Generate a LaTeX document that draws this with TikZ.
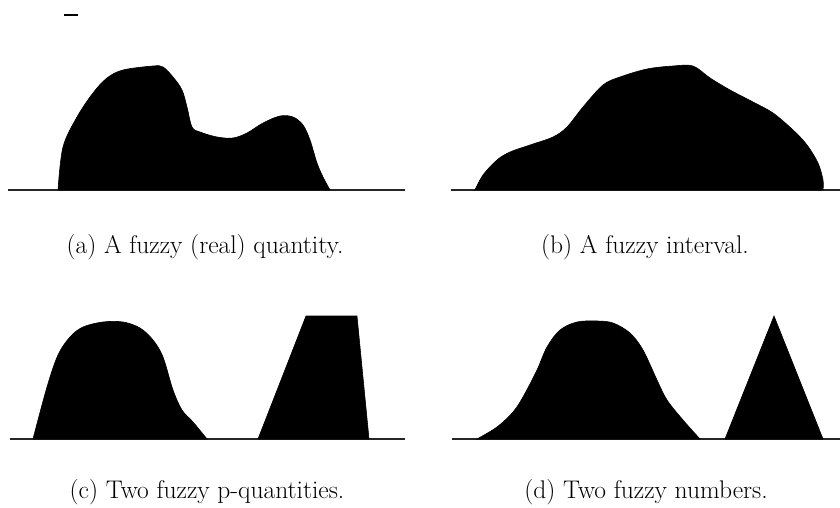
\documentclass[tikz,border=0pt]{standalone}
\begin{document}
\begin{tikzpicture}[x=1pt,y=-1pt,
  blob/.style={fill=black,draw=black,line width=0.6pt},
  axisline/.style={draw=black!85,line width=1.3pt},
  caption/.style={anchor=base,inner sep=0pt,font=\fontsize{25.5}{30}\selectfont}]
\useasboundingbox (0,0) rectangle (840,508);
% stray mark
\draw[line width=1.6pt] (64,15) -- (78,15);
% panel (a)
\draw[axisline] (8,190) -- (405,190);
\fill[blob] plot[smooth,tension=0.55] coordinates {(58,190) (63,147) (77,117) (93,93) (107,78) (123,70) (153,66) (163,67) (173,77) (182,90) (187,107) (192,127) (200,132) (217,137) (233,138) (247,133) (263,123) (280,116) (293,117) (303,125) (310,140) (317,163) (323,177) (330,190)} -- cycle;
% panel (b)
\draw[axisline] (451,190) -- (840,190);
\fill[blob] plot[smooth,tension=0.55] coordinates {(475,190) (483,175) (497,160) (510,152) (530,145) (553,137) (567,127) (583,107) (603,85) (620,77) (647,69) (673,66) (693,66) (710,78) (730,90) (753,102) (773,113) (793,130) (807,145) (818,163) (823,180) (823,190)} -- cycle;
% panel (c)
\draw[axisline] (10,439) -- (405,439);
\fill[blob] plot[smooth,tension=0.55] coordinates {(33,439) (47,387) (58,355) (70,337) (83,327) (103,322) (123,322) (140,328) (153,340) (163,357) (173,390) (182,410) (193,422) (207,439)} -- cycle;
\fill[blob] (258,439) -- (306,316) -- (357,316) -- (369,439) -- cycle;
% panel (d)
\draw[axisline] (452,439) -- (840,439);
\fill[blob] plot[smooth,tension=0.55] coordinates {(477,439) (497,427) (513,412) (523,397) (537,370) (547,347) (560,330) (577,322) (597,321) (613,323) (630,333) (643,350) (657,380) (667,400) (683,420) (700,439)} -- cycle;
\fill[blob] (725,439) -- (774,316) -- (823,439) -- cycle;
% captions
\node[caption] (capa) at (205,253) {(a) A fuzzy (real) quantity.};
\node[caption] (capb) at (645,253) {(b) A fuzzy interval.};
\node[caption] (capc) at (207,498) {(c) Two fuzzy p-quantities.};
\node[caption] (capd) at (646,498) {(d) Two fuzzy numbers.};
\end{tikzpicture}
\end{document}
